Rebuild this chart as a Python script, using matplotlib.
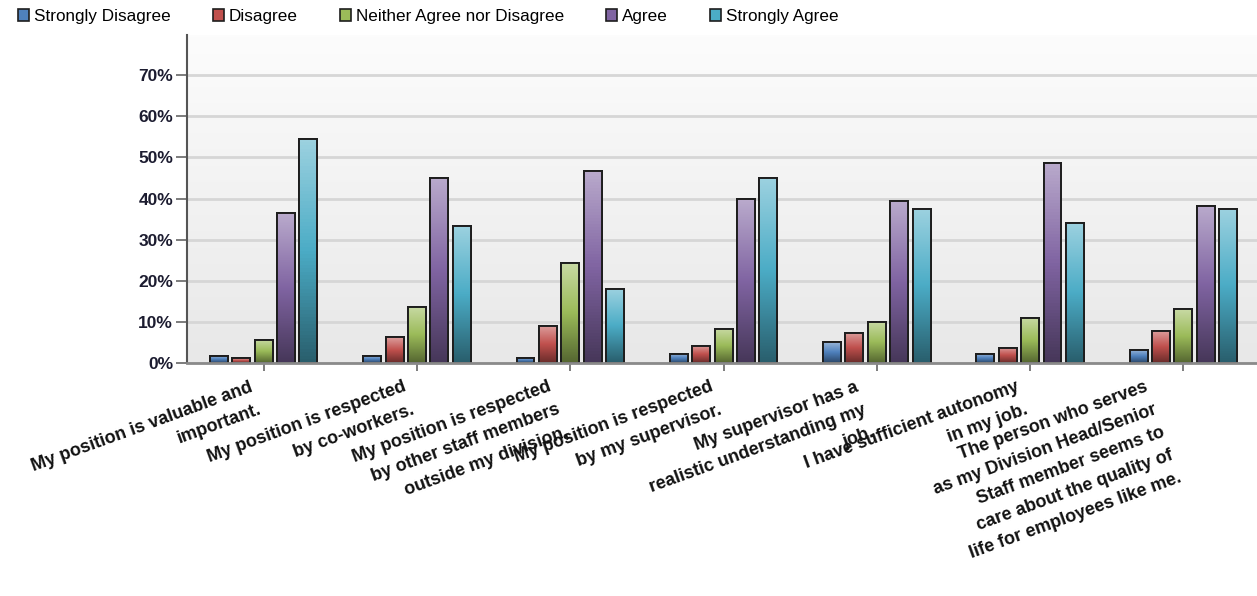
import matplotlib
matplotlib.use("Agg")
import matplotlib.pyplot as plt
import numpy as np
from matplotlib.colors import LinearSegmentedColormap, to_rgb
from matplotlib.patches import Patch

plt.rcParams['font.family'] = ['Liberation Sans', 'DejaVu Sans']

# survey statements (x axis)
statements = [
    "My position is valuable and\nimportant.",
    "My position is respected\nby co-workers.",
    "My position is respected\nby other staff members\noutside my division,",
    "My position is respected\nby my supervisor.",
    "My supervisor has a\nrealistic understanding my\njob.",
    "I have sufficient autonomy\nin my job.",
    "The person who serves\nas my Division Head/Senior\nStaff member seems to\ncare about the quality of\nlife for employees like me.",
]

responses = ["Strongly Disagree", "Disagree", "Neither Agree nor Disagree",
             "Agree", "Strongly Agree"]

# percentages
strongly_disagree = [1.8, 1.8, 1.3, 2.3, 5.2, 2.3, 3.2]
disagree = [1.2, 6.3, 9.1, 4.3, 7.3, 3.8, 7.8]
neither = [5.7, 13.6, 24.3, 8.3, 10.1, 11.1, 13.1]
agree = [36.4, 45.1, 46.7, 39.8, 39.4, 48.6, 38.3]
strongly_agree = [54.4, 33.4, 18.0, 45.1, 37.4, 34.0, 37.4]

yticks = [0, 10, 20, 30, 40, 50, 60, 70]
ytick_labels = ["0%", "10%", "20%", "30%", "40%", "50%", "60%", "70%"]

series = [strongly_disagree, disagree, neither, agree, strongly_agree]
colours = ["#4f81bd", "#c0504d", "#9bbb59", "#8064a2", "#4bacc6"]


def mix(c, other, t):
    c = np.array(to_rgb(c))
    return tuple(c * (1 - t) + np.array(other) * t)


fig = plt.figure(figsize=(12.57, 5.96), dpi=100)
ax = fig.add_axes([187 / 1257, 1 - 363.3 / 596, 1 - 187 / 1257, (363.3 - 35) / 596])

# plot area background, light grey fading to white at the top
bg = np.linspace(0, 1, 100).reshape(-1, 1)
bg_cmap = LinearSegmentedColormap.from_list("bg", ["#e8e8e8", "#fcfcfc"])
ax.imshow(bg, cmap=bg_cmap, origin="lower", extent=[0, 1, 0, 1],
          transform=ax.transAxes, aspect="auto", zorder=0)

x = np.arange(len(statements))
width = 0.117
step = 0.146

grad = np.linspace(0, 1, 64).reshape(-1, 1)
for k, (vals, col) in enumerate(zip(series, colours)):
    bars = ax.bar(x + (k - 2) * step, vals, width, color=col,
                  edgecolor="#1e1e1e", linewidth=1.4, label=responses[k], zorder=3)
    cmap = LinearSegmentedColormap.from_list(
        "g%d" % k, [mix(col, (0, 0, 0), 0.45), col, mix(col, (1, 1, 1), 0.45)])
    for b in bars:
        x0, y0 = b.get_x(), b.get_y()
        im = ax.imshow(grad, cmap=cmap, origin="lower", aspect="auto",
                       extent=[x0, x0 + b.get_width(), y0, y0 + b.get_height()],
                       zorder=3.5)
        im.set_clip_path(b)
    # redraw outline on top of the gradient
    ax.bar(x + (k - 2) * step, vals, width, fill=False,
           edgecolor="#1e1e1e", linewidth=1.4, zorder=4)

ax.set_xlim(-0.5, 6.48)
ax.set_ylim(0, 79.7)

ax.set_yticks(yticks)
ax.set_yticklabels(ytick_labels, fontsize=12.5, fontweight="bold", color="#1c1c30")
ax.yaxis.grid(True, color="#d6d6d6", linewidth=2, zorder=1)
ax.set_axisbelow(True)

ax.set_xticks(x)
ax.set_xticklabels(statements, rotation=20, ha="right", va="top",
                   rotation_mode="default", multialignment="right",
                   linespacing=1.55, fontsize=13, fontweight="bold", color="#111111")

ax.tick_params(axis="y", length=8, width=1.2, color="#666666", pad=2)
ax.tick_params(axis="x", length=6, width=1.2, color="#666666", pad=5)

for s in ["top", "right"]:
    ax.spines[s].set_visible(False)
ax.spines["left"].set_color("#555555")
ax.spines["left"].set_linewidth(1.5)
ax.spines["bottom"].set_color("#8a8a8a")
ax.spines["bottom"].set_linewidth(2)
ax.spines["bottom"].set_zorder(5)

handles = [Patch(facecolor=c, edgecolor="#1e1e1e", linewidth=1.2) for c in colours]
fig.legend(handles, responses, loc="upper left", bbox_to_anchor=(0.005, 1.005),
           ncol=5, frameon=False, fontsize=12.3, handlelength=0.64, handleheight=0.64,
           handletextpad=0.3, columnspacing=2.45, borderaxespad=0.3)

fig.savefig("out.png", dpi=100)
